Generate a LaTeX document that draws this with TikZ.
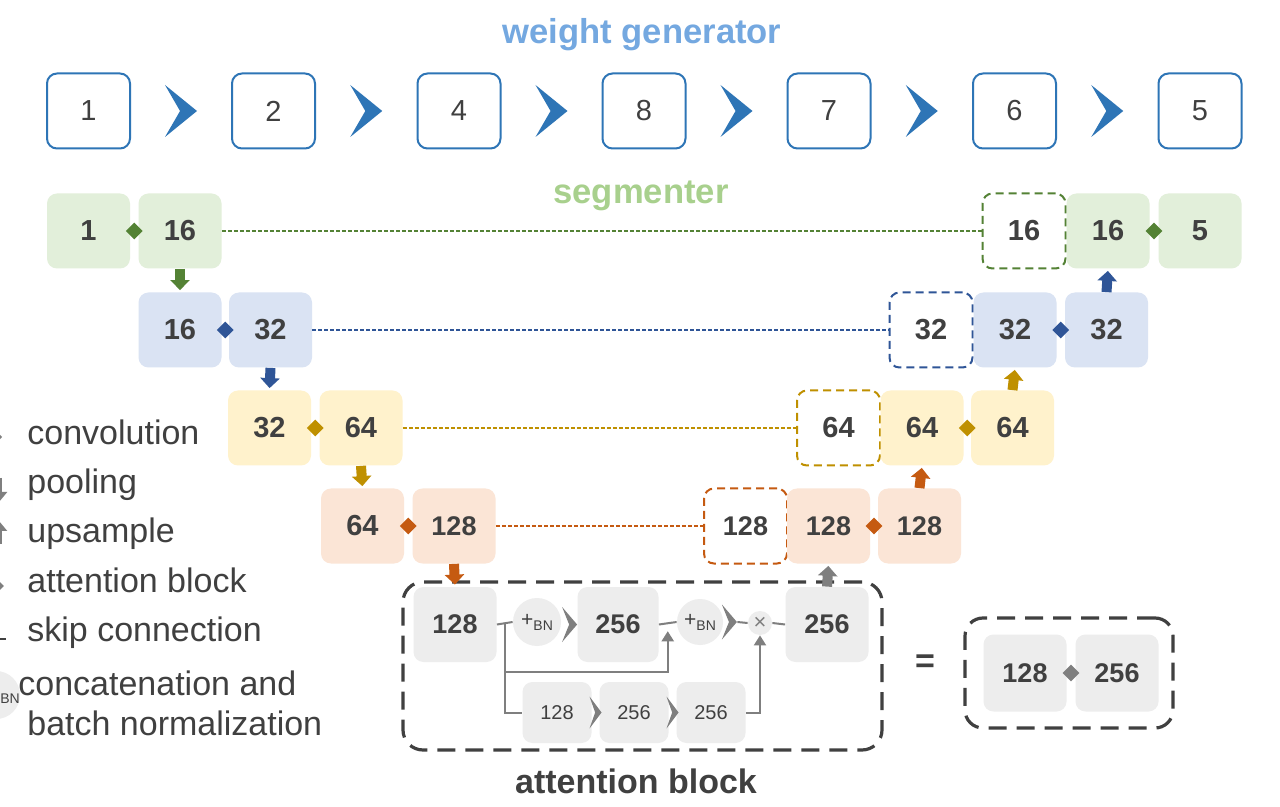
\documentclass[tikz,border=0pt]{standalone}
\usepackage{fontspec}
\setmainfont{Liberation Sans}
\usetikzlibrary{arrows.meta,calc,shapes.geometric}
\definecolor{txt}{HTML}{404040}
\definecolor{wgb}{HTML}{2E75B6}
\definecolor{wgt}{HTML}{74A8E0}
\definecolor{sgt}{HTML}{A8D08D}
\definecolor{gfill}{HTML}{E2EFDA}
\definecolor{gacc}{HTML}{548235}
\definecolor{bfill}{HTML}{DAE3F3}
\definecolor{bacc}{HTML}{2F5597}
\definecolor{yfill}{HTML}{FFF2CC}
\definecolor{yacc}{HTML}{BF9000}
\definecolor{ofill}{HTML}{FBE5D6}
\definecolor{oacc}{HTML}{C55A11}
\definecolor{kfill}{HTML}{EDEDED}
\definecolor{kacc}{HTML}{7F7F7F}
\definecolor{kdark}{HTML}{404040}
\tikzset{
  big/.style={font=\fontsize{14.5}{16}\selectfont\bfseries},
  bigs/.style={font=\fontsize{13.5}{15}\selectfont\bfseries},
  wgbox/.style={draw=wgb, line width=1pt, fill=white, rounded corners=5pt,
    minimum width=41.5pt, minimum height=37.5pt, inner sep=0pt, text=txt,
    font=\fontsize{14.5}{16}\selectfont},
  sbox/.style={rounded corners=5pt, minimum width=41.5pt, minimum height=37.5pt,
    inner sep=0pt, text=txt, big},
  dbox/.style={sbox, fill=white, line width=1pt, dash pattern=on 4pt off 2.5pt},
  skipline/.style={line width=0.6pt, dash pattern=on 2pt off 1pt},
  dia/.style={diamond, minimum size=8.5pt, inner sep=0pt},
  blockarr/.style={line width=5pt, -{Triangle[width=9.5pt,length=5pt]}, shorten >=1pt},
  gline/.style={draw=kacc, line width=1pt},
  circ/.style={circle, fill=kfill, minimum size=24pt, inner sep=0pt, text=txt},
  smallbox/.style={rounded corners=5pt, fill=kfill, minimum width=34.5pt,
    minimum height=30.5pt, inner sep=0pt, text=txt, font=\fontsize{10}{12}\selectfont},
  legtext/.style={anchor=base west, text=txt, font=\fontsize{17}{20}\selectfont, inner sep=0pt},
  chev/.pic={\fill[#1] (-0.5,-0.5)--(0.5,0)--(-0.5,0.5)--(-0.03,0)--cycle;},
}
\newcommand{\plusbn}{+\raisebox{-0.35ex}{\fontsize{7}{8}\selectfont BN}}
\begin{document}
\begin{tikzpicture}[x=0.5pt, y=-0.5pt]
\useasboundingbox (0,0) rectangle (1280,807);
\clip (0,0) rectangle (1280,807);
\fill[white] (0,0) rectangle (1280,807);

% titles
\node[text=wgt, font=\fontsize{17.3}{20}\selectfont\bfseries] (twg) at (642,35) {weight generator};
\node[text=sgt, font=\fontsize{17.3}{20}\selectfont\bfseries] (tsg) at (641,196) {segmenter};

% weight generator
\node[wgbox] (w1) at (88.5,111) {1};
\node[wgbox] (w2) at (273.5,111) {2};
\node[wgbox] (w3) at (459,111) {4};
\node[wgbox] (w4) at (644,111) {8};
\node[wgbox] (w5) at (829,111) {7};
\node[wgbox] (w6) at (1014.5,111) {6};
\node[wgbox] (w7) at (1200,111) {5};
\foreach \a/\b in {w1/w2,w2/w3,w3/w4,w4/w5,w5/w6,w6/w7}
  \pic[xscale=32, yscale=52] at ($(\a.east)!0.5!(\b.west)$) {chev=wgb};

% row 1 (green)
\node[sbox, fill=gfill] (g1) at (88.5,231) {1};
\node[sbox, fill=gfill] (g2) at (180,231) {16};
\node[dbox, draw=gacc] (gd) at (1024,231) {16};
\node[sbox, fill=gfill] (g3) at (1108,231) {16};
\node[sbox, fill=gfill] (g4) at (1200,231) {5};
\node[dia, fill=gacc] (gk1) at ($(g1.east)!0.5!(g2.west)$) {};
\node[dia, fill=gacc] (gk2) at ($(g3.east)!0.5!(g4.west)$) {};
\draw[skipline, gacc] (g2.east) -- (gd.west);

% row 2 (blue)
\node[sbox, fill=bfill] (b1) at (180,330) {16};
\node[sbox, fill=bfill] (b2) at (270.5,330) {32};
\node[dbox, draw=bacc] (bd) at (931,330) {32};
\node[sbox, fill=bfill] (b3) at (1015,330) {32};
\node[sbox, fill=bfill] (b4) at (1106.5,330) {32};
\node[dia, fill=bacc] (bk1) at ($(b1.east)!0.5!(b2.west)$) {};
\node[dia, fill=bacc] (bk2) at ($(b3.east)!0.5!(b4.west)$) {};
\draw[skipline, bacc] (b2.east) -- (bd.west);

% row 3 (yellow)
\node[sbox, fill=yfill] (y1) at (269.5,428) {32};
\node[sbox, fill=yfill] (y2) at (361,428) {64};
\node[dbox, draw=yacc] (yd) at (838.5,428) {64};
\node[sbox, fill=yfill] (y3) at (922,428) {64};
\node[sbox, fill=yfill] (y4) at (1012.5,428) {64};
\node[dia, fill=yacc] (yk1) at ($(y1.east)!0.5!(y2.west)$) {};
\node[dia, fill=yacc] (yk2) at ($(y3.east)!0.5!(y4.west)$) {};
\draw[skipline, yacc] (y2.east) -- (yd.west);

% row 4 (orange)
\node[sbox, fill=ofill] (o1) at (362.5,526) {64};
\node[sbox, fill=ofill, bigs] (o2) at (454,526) {128};
\node[dbox, draw=oacc, bigs] (od) at (745.5,526) {128};
\node[sbox, fill=ofill, bigs] (o3) at (828.5,526) {128};
\node[sbox, fill=ofill, bigs] (o4) at (919.5,526) {128};
\node[dia, fill=oacc] (ok1) at ($(o1.east)!0.5!(o2.west)$) {};
\node[dia, fill=oacc] (ok2) at ($(o3.east)!0.5!(o4.west)$) {};
\draw[skipline, oacc] (o2.east) -- (od.west);

% attention block
\node[draw=kdark, line width=1.6pt, dash pattern=on 9pt off 5pt, rounded corners=10pt,
  minimum width=239.5pt, minimum height=84pt, inner sep=0pt] (att) at (642.5,666) {};
\node[text=txt, font=\fontsize{17}{20}\selectfont\bfseries] (attl) at (636,781) {attention block};
\node[sbox, fill=kfill, bigs] (a1) at (455,624.5) {128};
\node[circ] (c1) at (537,622) {\fontsize{10.5}{12}\selectfont\plusbn};
\node[sbox, fill=kfill, bigs, minimum width=40.5pt] (a2) at (618,624.5) {256};
\node[circ, minimum size=23pt] (c2) at (700,622) {\fontsize{10.5}{12}\selectfont\plusbn};
\node[circle, fill=kfill, minimum size=12pt, inner sep=0pt, text=kacc,
  font=\fontsize{11}{12}\selectfont] (xm) at (760,623) {×};
\node[sbox, fill=kfill, bigs] (a3) at (827,624.5) {256};
\node[smallbox] (s1) at (557,712.5) {128};
\node[smallbox] (s2) at (634,712.5) {256};
\node[smallbox] (s3) at (711,712.5) {256};

\coordinate (j1) at ($(a1.east)!0.5!(c1.west)$);
\coordinate (j2) at ($(a2.east)!0.5!(c2.west)$);
\draw[gline] (a1.east) -- (c1.west);
\draw[gline] (a2.east) -- (c2.west);
\draw[gline] (xm.east) -- (a3.west);
\draw[gline, -{Triangle[width=6pt,length=5pt]}] (j1) |- ($(j2)+(0,49)$) -- ($(j2)+(0,8)$);
\draw[gline] (j1) |- (s1.west);
\draw[gline, -{Triangle[width=6pt,length=5pt]}] (s3.east) -| (xm.south);
\draw[gline] ($(c2.east)+(14,0)$) -- (xm.west);
\pic[xscale=15, yscale=35] at ($(a2.west)+(-7.5,0)$) {chev=kacc};
\pic[xscale=15, yscale=35] at ($(c2.east)+(6,0)$) {chev=kacc};
\pic[xscale=12, yscale=32] at ($(s1.east)!0.5!(s2.west)$) {chev=kacc};
\pic[xscale=12, yscale=32] at ($(s2.east)!0.5!(s3.west)$) {chev=kacc};

% block arrows (pooling / upsample)
\draw[blockarr, gacc] (g2.south) -- (b1.north);
\draw[blockarr, bacc] (b2.south) -- (y1.north);
\draw[blockarr, yacc] (y2.south) -- (o1.north);
\draw[blockarr, oacc] (o2.south) -- (a1.north);
\draw[blockarr, kacc] (a3.north) -- (o3.south);
\draw[blockarr, oacc] (o4.north) -- (y3.south);
\draw[blockarr, yacc] (y4.north) -- (b3.south);
\draw[blockarr, bacc] (b4.north) -- (g3.south);

% equivalent block
\node[text=txt, font=\fontsize{17}{20}\selectfont\bfseries] (eq) at (925,664) {=};
\node[draw=kdark, line width=1.6pt, dash pattern=on 9pt off 5pt, rounded corners=9pt,
  minimum width=104pt, minimum height=55pt, inner sep=0pt] (eqb) at (1069,673) {};
\node[sbox, fill=kfill, bigs, minimum height=38.5pt] (e1) at (1025,673) {128};
\node[sbox, fill=kfill, bigs, minimum height=38.5pt] (e2) at (1117,673) {256};
\node[dia, fill=kacc] (ek) at ($(e1.east)!0.5!(e2.west)$) {};

% legend
\node[legtext] (l1) at (27,445) {convolution};
\node[legtext] (l2) at (27,494) {pooling};
\node[legtext] (l3) at (27,542) {upsample};
\node[legtext] (l4) at (27,592) {attention block};
\node[legtext] (l5) at (27,641) {skip connection};
\node[legtext] (l6) at (18,695) {concatenation and};
\node[legtext] (l7) at (27,735) {batch normalization};
\pic[xscale=12, yscale=26] at (-4,437) {chev=kacc};
\coordinate (p1) at (-1,478);
\coordinate (p2) at (-1,502);
\draw[kacc, line width=3pt, -{Triangle[width=8pt,length=5pt]}] (p1) -- (p2);
\coordinate (u1) at (-1,544);
\coordinate (u2) at (-1,521);
\draw[kacc, line width=3pt, -{Triangle[width=8pt,length=5pt]}] (u1) -- (u2);
\node[dia, fill=kacc, minimum size=7pt] (ld) at (-3,586) {};
\coordinate (k1) at (-30,639);
\coordinate (k2) at (8,639);
\draw[kdark, line width=0.8pt, dash pattern=on 3pt off 2pt] (k1) -- (k2);
\node[circ] (lc) at (-4,695) {};
\node[text=txt, font=\fontsize{7}{8}\selectfont, inner sep=0pt, anchor=west] (lbn) at (0,699) {BN};
\end{tikzpicture}
\end{document}
